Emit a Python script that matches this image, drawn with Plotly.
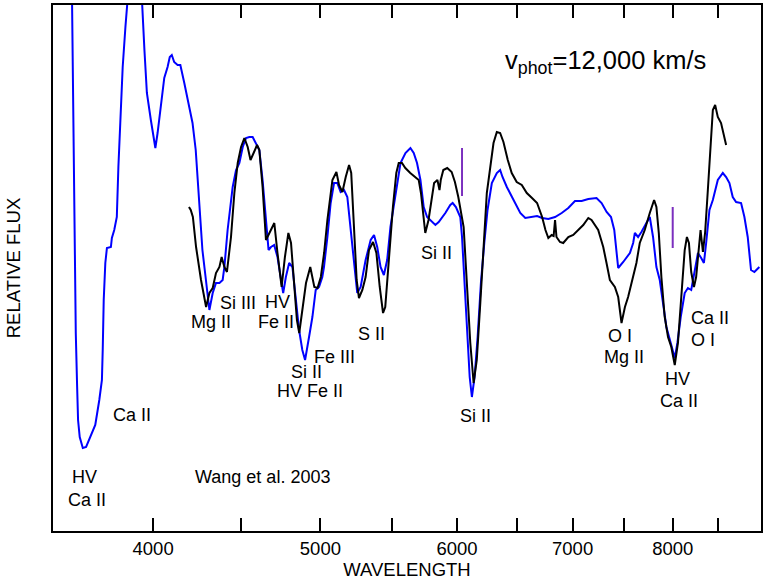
import plotly.graph_objects as go
import math

# ---------------- data (wavelength in Angstrom, relative flux in arbitrary units) ----------------
blue_wl = [3500, 3560, 3590, 3595, 3603, 3608, 3614, 3619, 3627, 3642, 3658, 3682, 3703, 3723, 3736,
           3740, 3745, 3753, 3761, 3781, 3786, 3798, 3811, 3819, 3829, 3841, 3855, 3866, 3903, 3941,
           3954, 3967, 3988, 4003, 4012, 4024, 4042, 4060, 4078, 4090, 4101, 4114, 4133, 4148, 4170,
           4197, 4216, 4234, 4253, 4272, 4292, 4312, 4331, 4350, 4370, 4389, 4399, 4418, 4448, 4468,
           4488, 4508, 4528, 4548, 4568, 4589, 4609, 4629, 4650, 4666, 4681, 4701, 4722, 4744, 4758,
           4775, 4796, 4817, 4839, 4860, 4881, 4899, 4925, 4947, 4969, 4991, 5013, 5024, 5047, 5069,
           5092, 5114, 5137, 5160, 5183, 5206, 5229, 5252, 5276, 5311, 5347, 5371, 5394, 5418, 5442,
           5466, 5490, 5527, 5564, 5601, 5638, 5663, 5688, 5714, 5739, 5765, 5803, 5829, 5855, 5907,
           5946, 5965, 5991, 6026, 6040, 6067, 6086, 6102, 6120, 6142, 6167, 6194, 6222, 6249, 6285,
           6327, 6355, 6375, 6412, 6484, 6528, 6572, 6631, 6676, 6721, 6777, 6838, 6899, 6960, 7022,
           7085, 7148, 7227, 7276, 7325, 7368, 7400, 7423, 7439, 7489, 7556, 7589, 7606, 7639, 7673,
           7724, 7759, 7793, 7828, 7863, 7898, 7933, 7979, 8022, 8050, 8086, 8129, 8164, 8200, 8237,
           8274, 8310, 8340, 8365, 8402, 8440, 8496, 8553, 8591, 8629, 8667, 8706, 8764, 8803, 8842,
           8881, 8921, 8980]
blue_flux = [62.0, 58.0, 53.1, 43.1, 29.8, 19.8, 14.8, 11.1, 9.4, 8.3, 8.4, 9.6, 10.6, 13.1, 15.1,
             18.1, 23.1, 26.8, 28.3, 28.4, 29.3, 30.1, 31.4, 36.4, 41.4, 46.4, 50.4, 53.1, 57.0, 53.1,
             48.1, 43.8, 41.1, 39.1, 38.3, 39.8, 42.4, 45.3, 46.4, 47.4, 47.6, 46.9, 46.6, 46.6, 44.8,
             42.4, 40.8, 38.1, 33.1, 28.1, 25.1, 22.1, 23.8, 24.8, 24.8, 25.1, 26.4, 30.1, 34.4, 36.1,
             36.8, 38.4, 39.3, 39.4, 39.4, 38.8, 38.1, 35.1, 31.1, 28.1, 28.4, 28.6, 27.4, 25.1, 23.8,
             25.4, 26.8, 26.4, 22.8, 20.1, 18.1, 17.1, 19.4, 21.4, 24.1, 24.4, 25.4, 26.4, 29.4, 32.8,
             34.8, 34.8, 33.9, 34.1, 33.4, 30.4, 26.8, 23.8, 24.4, 27.1, 29.1, 29.6, 28.4, 26.4, 25.6,
             27.1, 30.4, 33.4, 36.8, 37.8, 38.3, 37.8, 36.8, 35.1, 32.4, 31.4, 30.9, 30.6, 30.9, 31.8,
             32.6, 32.8, 32.4, 31.4, 29.4, 23.8, 18.8, 15.4, 13.4, 15.4, 19.4, 24.8, 28.8, 32.1, 34.8,
             35.8, 36.1, 35.4, 34.4, 32.8, 31.8, 31.3, 31.4, 31.5, 31.3, 31.2, 31.4, 31.8, 32.3, 33.0,
             33.0, 33.2, 33.3, 32.8, 31.9, 31.4, 30.1, 28.1, 26.3, 26.9, 27.8, 28.8, 29.8, 29.4, 29.9,
             30.8, 31.4, 29.4, 26.4, 25.1, 22.8, 20.4, 18.8, 17.3, 18.8, 21.4, 23.8, 24.3, 24.1, 26.1,
             27.8, 27.3, 26.8, 28.8, 32.1, 33.1, 35.1, 35.8, 35.4, 34.8, 33.4, 32.9, 32.8, 31.4, 29.4,
             26.1, 25.9, 26.4]

black_wl = [4196, 4206, 4218, 4236, 4264, 4293, 4312, 4331, 4350, 4370, 4383, 4399, 4414, 4438, 4458,
            4478, 4498, 4518, 4538, 4555, 4574, 4595, 4609, 4629, 4650, 4670, 4702, 4722, 4748, 4769,
            4791, 4808, 4829, 4846, 4861, 4883, 4905, 4933, 4960, 4981, 5003, 5025, 5047, 5081, 5108,
            5126, 5149, 5172, 5195, 5210, 5229, 5248, 5264, 5288, 5311, 5335, 5364, 5388, 5412, 5436,
            5452, 5476, 5508, 5533, 5551, 5575, 5600, 5637, 5675, 5701, 5718, 5733, 5751, 5776, 5801,
            5819, 5845, 5861, 5871, 5891, 5922, 5957, 5983, 6010, 6053, 6079, 6107, 6134, 6160, 6189,
            6216, 6243, 6271, 6299, 6327, 6355, 6383, 6420, 6454, 6497, 6541, 6585, 6631, 6676, 6721,
            6751, 6777, 6807, 6825, 6838, 6851, 6883, 6913, 6960, 7006, 7053, 7100, 7148, 7179, 7243,
            7292, 7324, 7357, 7406, 7439, 7472, 7506, 7538, 7589, 7622, 7656, 7707, 7759, 7804, 7828,
            7853, 7880, 7915, 7950, 7985, 8022, 8056, 8092, 8129, 8153, 8175, 8200, 8230, 8254, 8285,
            8303, 8329, 8354, 8384, 8414, 8440, 8466, 8496, 8533, 8553, 8572, 8591]
black_flux = [32.4, 32.1, 31.4, 28.4, 25.1, 22.4, 23.8, 24.3, 25.8, 26.4, 27.4, 26.4, 25.9, 29.4, 33.8,
              36.8, 38.4, 39.3, 38.4, 37.1, 37.8, 38.6, 38.1, 34.4, 29.1, 29.8, 30.8, 27.8, 24.4, 27.4,
              29.8, 28.8, 24.4, 21.1, 19.8, 22.4, 24.8, 26.4, 24.4, 24.3, 25.4, 27.8, 31.1, 35.1, 35.9,
              34.6, 33.9, 35.4, 36.6, 35.8, 30.4, 25.1, 23.3, 24.1, 25.4, 28.1, 28.9, 27.8, 24.4, 21.8,
              22.4, 27.1, 32.4, 35.8, 36.8, 36.8, 36.3, 35.8, 35.4, 35.1, 33.8, 31.8, 29.8, 31.1, 33.4,
              34.8, 35.1, 34.1, 35.1, 36.1, 36.3, 35.9, 34.9, 33.4, 30.4, 24.8, 18.8, 14.8, 17.1, 22.8,
              28.8, 33.8, 36.3, 38.8, 39.9, 39.8, 38.9, 37.1, 35.8, 34.9, 34.6, 33.8, 33.3, 32.8, 31.4,
              30.1, 29.3, 29.6, 29.5, 31.1, 29.4, 28.9, 28.8, 29.4, 29.6, 30.1, 30.6, 31.3, 31.1, 30.1,
              28.4, 26.8, 25.1, 24.4, 23.4, 20.8, 22.4, 23.4, 25.4, 26.8, 28.8, 30.1, 31.8, 33.1, 32.4,
              29.8, 25.4, 21.4, 19.4, 18.4, 16.6, 18.8, 23.4, 28.1, 29.4, 28.8, 25.9, 24.4, 25.4, 28.5,
              30.1, 27.9, 29.9, 34.1, 39.1, 42.1, 42.6, 41.4, 40.8, 40.1, 39.3, 38.6]

marker_wl = [6040, 8000]
marker_lo = [33.5, 28.3]
marker_hi = [38.3, 32.4]

major_ticks = [4000, 5000, 6000, 7000, 8000]
minor_ticks = [4500, 5500, 6500, 7500, 8500]

labels = [
    ("HV", 0.0451, 0.1027), ("Ca II", 0.0479, 0.0589), ("Ca II", 0.1113, 0.2205),
    ("Wang et al. 2003", 0.2958, 0.1027), ("Mg II", 0.2225, 0.3973), ("Si III", 0.2606, 0.4335),
    ("HV", 0.3169, 0.4354), ("Fe II", 0.3155, 0.3973), ("S II", 0.4493, 0.3745),
    ("Fe III", 0.3972, 0.3308), ("Si II", 0.3577, 0.3023), ("HV Fe II", 0.3634, 0.2662),
    ("Si II", 0.5423, 0.5285), ("Si II", 0.5972, 0.2186), ("O I", 0.8014, 0.3707),
    ("Mg II", 0.8070, 0.3308), ("HV", 0.8817, 0.2890), ("Ca II", 0.8845, 0.2471),
    ("Ca II", 0.9282, 0.4049), ("O I", 0.9183, 0.3631),
]

FONT = "Arial, Liberation Sans, sans-serif"

fig = go.Figure()
fig.add_trace(go.Scatter(x=blue_wl, y=blue_flux, mode="lines",
                         line=dict(color="#0000FF", width=2), showlegend=False, hoverinfo="skip"))
fig.add_trace(go.Scatter(x=black_wl, y=black_flux, mode="lines",
                         line=dict(color="#000000", width=2), showlegend=False, hoverinfo="skip"))
for wl, lo, hi in zip(marker_wl, marker_lo, marker_hi):
    fig.add_trace(go.Scatter(x=[wl, wl], y=[lo, hi], mode="lines",
                             line=dict(color="#7B2FBE", width=2), showlegend=False, hoverinfo="skip"))

for txt, xp, yp in labels:
    fig.add_annotation(text=txt, x=xp, y=yp, xref="paper", yref="paper", showarrow=False,
                       xanchor="center", yanchor="middle", font=dict(family=FONT, size=18, color="black"))

fig.add_annotation(text="v<sub>phot</sub>=12,000 km/s", x=0.7809, y=0.8916, xref="paper", yref="paper",
                   showarrow=False, xanchor="center", yanchor="middle",
                   font=dict(family=FONT, size=25.5, color="black"))

fig.update_layout(
    width=766, height=582,
    margin=dict(l=53, r=3, t=5, b=51),
    paper_bgcolor="white", plot_bgcolor="white",
    font=dict(family=FONT, size=18.5, color="black"),
    xaxis=dict(type="log", range=[math.log10(3500), math.log10(9000)],
               tickmode="array", tickvals=major_ticks, ticktext=[str(v) for v in major_ticks],
               ticks="inside", ticklen=13, tickwidth=1.5,
               tickcolor="black", showline=True, linewidth=2, linecolor="black", mirror="ticks",
               minor=dict(tickmode="array", tickvals=minor_ticks, ticks="inside", ticklen=13,
                          tickwidth=1.5, tickcolor="black", showgrid=False),
               showgrid=False, zeroline=False,
               title=dict(text="WAVELENGTH", font=dict(family=FONT, size=18.5), standoff=4),
               tickfont=dict(family=FONT, size=18.5)),
    yaxis=dict(range=[0, 52.6], showticklabels=False, ticks="", showline=True, linewidth=2,
               linecolor="black", mirror=True, showgrid=False, zeroline=False,
               title=dict(text="RELATIVE FLUX", font=dict(family=FONT, size=18.5), standoff=26)),
)

fig.write_html("out.html")
